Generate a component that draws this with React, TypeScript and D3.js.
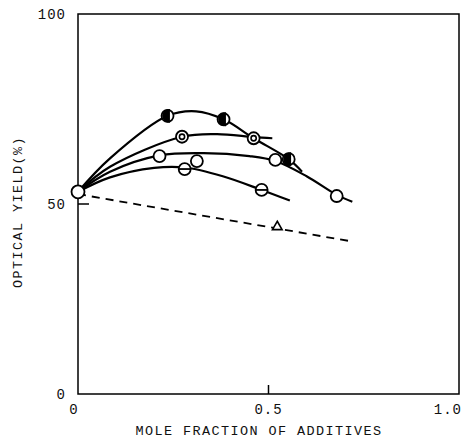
import React from 'react';
import * as d3 from 'd3';

// markers: [mole fraction, optical yield %]
const startPoint: [number, number] = [0, 53.2];
const halfFilled: [number, number][] = [[0.235, 73.2], [0.382, 72.3], [0.553, 61.8]];
const dotted: [number, number][] = [[0.273, 67.7], [0.461, 67.3]];
const open: [number, number][] = [[0.214, 62.6], [0.312, 61.3], [0.518, 61.6], [0.679, 52.1]];
const barred: [number, number][] = [[0.28, 59.2], [0.482, 53.7]];
const triangle: [number, number] = [0.523, 44];

// hand-drawn fitted curves
const curveA: [number, number][] = [[0, 53.2], [0.084, 62], [0.235, 73.2], [0.31, 74.4], [0.382, 72.3], [0.461, 67.3], [0.553, 61.8], [0.588, 58.5]];
const curveB: [number, number][] = [[0, 53.2], [0.084, 59.8], [0.273, 67.7], [0.365, 68.4], [0.461, 67.6], [0.51, 67.3]];
const curveC: [number, number][] = [[0, 53.2], [0.084, 58.5], [0.214, 62.8], [0.33, 63.4], [0.45, 62.6], [0.518, 61.3], [0.6, 57.3], [0.679, 52.4], [0.72, 50.6]];
const curveD: [number, number][] = [[0, 53.2], [0.084, 57], [0.2, 59.5], [0.28, 59.6], [0.38, 57.3], [0.482, 53.7], [0.556, 50.9]];
const dashedLine: [number, number][] = [[0, 52.6], [0.716, 40.2]];

const yTicks = [0, 50, 100];
const xTicks = [0, 0.5, 1.0];

const width = 469;
const height = 446;
const left = 78, right = 459, top = 14, bottom = 394;
const font = '"Liberation Mono", "DejaVu Sans Mono", monospace';
const R = 6;

export default function App() {
  const x = d3.scaleLinear([0, 1], [left, right]);
  const y = d3.scaleLinear([0, 100], [bottom, top]);
  const line = d3.line<[number, number]>(d => x(d[0]), d => y(d[1])).curve(d3.curveCatmullRom.alpha(0.5));
  const straight = d3.line<[number, number]>(d => x(d[0]), d => y(d[1]));

  const halfPath = (cx: number, cy: number) =>
    `M${cx},${cy - R}A${R},${R} 0 0 0 ${cx},${cy + R}Z`;

  return (
    <svg width={width} height={height} style={{ position: 'absolute', left: 0, top: 0, background: '#fff' }}>
      <rect x={left} y={top} width={right - left} height={bottom - top} fill="none" stroke="#000" strokeWidth={1.5} />
      <line x1={left} x2={left + 11} y1={y(50)} y2={y(50)} stroke="#000" strokeWidth={1.5} />
      <line x1={x(0.5)} x2={x(0.5)} y1={bottom} y2={bottom - 9} stroke="#000" strokeWidth={1.5} />

      <g fontFamily={font} fontSize={14} fill="#111">
        {yTicks.map(t => (
          <text key={t} x={66} y={y(t)} dy="0.35em" textAnchor="end" letterSpacing={1}>{t}</text>
        ))}
        {xTicks.map(t => (
          <text key={t} x={t === 0 ? x(t) - 4 : t === 1 ? x(t) + 3 : x(t)} y={414}
            textAnchor={t === 0 ? 'middle' : t === 1 ? 'end' : 'middle'} letterSpacing={1}>
            {t === 0 ? '0' : t.toFixed(1)}
          </text>
        ))}
        <text x={259} y={435} textAnchor="middle" fontSize={13.5} letterSpacing={1.4}>MOLE FRACTION OF ADDITIVES</text>
        <text transform={`translate(22,${(top + bottom) / 2 + 8}) rotate(-90)`} textAnchor="middle" fontSize={13.5} letterSpacing={1.4}>OPTICAL YIELD(%)</text>
      </g>

      <g fill="none" stroke="#000" strokeWidth={2.2}>
        {[curveA, curveB, curveC, curveD].map((c, i) => (
          <path key={i} d={line(c) || ''} />
        ))}
        <path d={straight(dashedLine) || ''} strokeDasharray="8 6" strokeWidth={1.8} />
      </g>

      <g stroke="#000" strokeWidth={1.8}>
        {open.map((d, i) => (
          <circle key={'o' + i} cx={x(d[0])} cy={y(d[1])} r={R} fill="#fff" />
        ))}
        {barred.map((d, i) => (
          <g key={'b' + i}>
            <circle cx={x(d[0])} cy={y(d[1])} r={R} fill="#fff" />
            <line x1={x(d[0]) - R} x2={x(d[0]) + R} y1={y(d[1])} y2={y(d[1])} />
          </g>
        ))}
        {dotted.map((d, i) => (
          <g key={'d' + i}>
            <circle cx={x(d[0])} cy={y(d[1])} r={R} fill="#fff" />
            <circle cx={x(d[0])} cy={y(d[1])} r={2.6} fill="#fff" strokeWidth={1.6} />
          </g>
        ))}
        {halfFilled.map((d, i) => (
          <g key={'h' + i}>
            <circle cx={x(d[0])} cy={y(d[1])} r={R} fill="#fff" />
            <path d={halfPath(x(d[0]) + 1.5, y(d[1]))} fill="#000" />
          </g>
        ))}
        <circle cx={x(startPoint[0])} cy={y(startPoint[1])} r={R + 0.5} fill="#fff" />
        <path
          d={d3.symbol(d3.symbolTriangle, 40)() || ''}
          transform={`translate(${x(triangle[0])},${y(triangle[1])})`}
          fill="#fff"
          strokeWidth={1.6}
        />
      </g>
    </svg>
  );
}
